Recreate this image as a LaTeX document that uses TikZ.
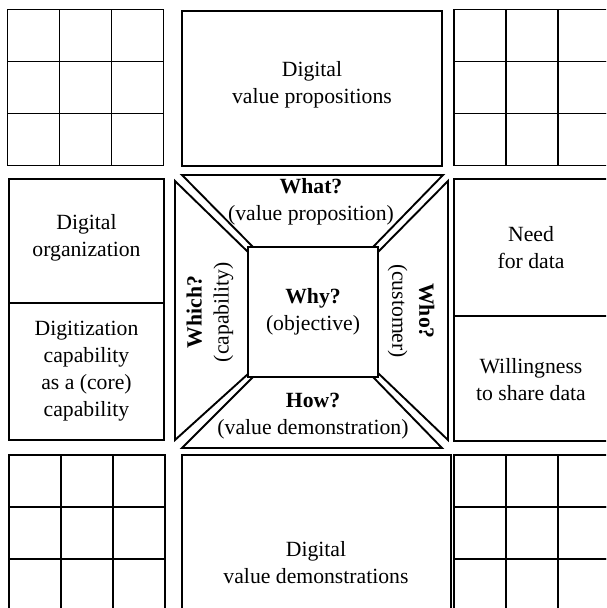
\documentclass[tikz,border=0pt]{standalone}
\usepackage{fontspec}
\setmainfont{Liberation Serif}
\begin{document}
\begin{tikzpicture}[x=1pt,y=-1pt,line width=1.9pt,line join=miter,
  txt/.style={align=center,font=\fontsize{21.7}{27}\selectfont,inner sep=0pt}]
\useasboundingbox (0,0) rectangle (606,608);
\clip (0,0) rectangle (606,608);
% corner grids
\foreach \ox/\oy in {7.5/9.5, 454/9.5, 9/455, 454/455}
  \foreach \i in {0,1,2}
    \foreach \j in {0,1,2}
      \draw (\ox+\i*52,\oy+\j*52) rectangle ++(52,52);
% top and bottom boxes
\draw (182,11) rectangle (442,166);
\node[txt] (vp) at (312,85) {Digital\\value propositions};
\draw (182,455) rectangle (451,620);
\node[txt] (vd) at (316,563) {Digital\\value demonstrations};
% left boxes
\draw (9,179) rectangle (164,440);
\draw (9,303) -- (164,303);
\node[txt] (dorg) at (86.5,238) {Digital\\organization};
\node[txt] (dcap) at (86.5,371) {Digitization\\capability\\as a (core)\\capability};
% right boxes
\draw (454,179) rectangle (610,441);
\draw (454,316) -- (610,316);
\node[txt] (need) at (531,248) {Need\\for data};
\node[txt] (share) at (531,380) {Willingness\\to share data};
% centre
\draw (248,247) rectangle (378,377);
\draw (182,175) -- (443,175) -- (373,247) -- (253,247) -- cycle;
\draw (175,181) -- (248,252) -- (248,374) -- (175,440) -- cycle;
\draw (253,377) -- (373,377) -- (442,448) -- (182,448) -- cycle;
\draw (378,252) -- (448,181) -- (448,440) -- (378,373) -- cycle;
\node[txt] (why) at (313,312) {\textbf{Why?}\\(objective)};
\node[txt] (what) at (311,202) {\textbf{What?}\\(value proposition)};
\node[txt] (how) at (313,416) {\textbf{How?}\\(value demonstration)};
\node[txt,rotate=90] (which) at (210,312) {\textbf{Which?}\\(capability)};
\node[txt,rotate=-90] (who) at (411,311) {\textbf{Who?}\\(customer)};
\end{tikzpicture}
\end{document}
